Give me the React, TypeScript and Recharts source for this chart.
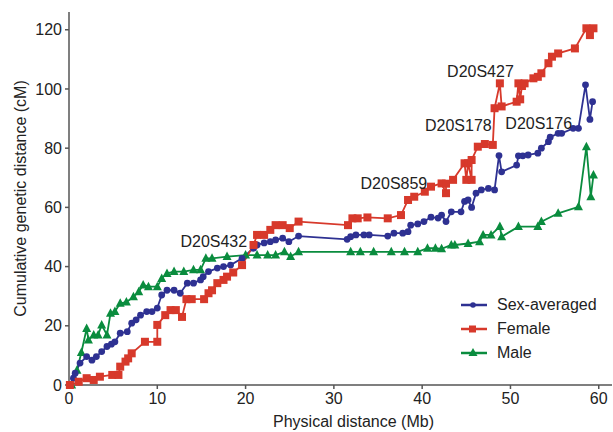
import { LineChart, Line, XAxis, YAxis, ReferenceDot } from "recharts";

const FONT = "'Liberation Sans', Arial, Helvetica, sans-serif";

const BLUE = "#2e3192";
const RED = "#d7392b";
const GREEN = "#0a8c3e";

// sex-averaged map (Mb vs cM)
const avgX = [
  0.5, 0.7, 1.25, 2, 2.6, 3.1, 3.7, 4.3, 4.8, 5.2, 5.8, 6.6, 7.1, 7.6, 8.1, 8.8, 9.4, 10, 10.5, 11.1,
  11.9, 12.6, 13.4, 14.1, 14.9, 15.2, 15.8, 16.8, 17.5, 18.3, 19.6, 20.9, 21.3, 22.1, 22.8, 23.4, 24.2,
  24.9, 26, 31.5, 31.9, 32.5, 33.4, 34, 36.1, 36.8, 37.8, 38.4, 38.7, 39.5, 40.2, 41, 41.8, 42.2, 42.7,
  43.3, 44.4, 44.8, 45.2, 45.6, 46.1, 46.7, 47.5, 48.2, 48.7, 49, 50.7, 50.9, 51.4, 52, 53.1, 53.5,
  54.3, 54.5, 55.4, 55.8, 57.1, 57.7, 58.5, 59, 59.3,
];
const avgY = [
  2.3, 4, 7.4, 9.6, 8.4, 9.6, 11.3, 13, 13.8, 14.6, 17.5, 18, 20.9, 22, 23.6, 24.8, 24.8, 26, 30.4, 32,
  32, 31, 34.4, 34.4, 35.5, 36.6, 38.3, 39.5, 40, 40.5, 42.8, 46.2, 47.3, 48, 48.4, 49, 49.6,
  48.4, 50.3, 49.2, 50.1, 50.7, 50.7, 50.7, 50.3, 51.3, 51.3, 51.8, 54, 54.4, 55.2, 56.7, 56.4, 57.4, 55.2,
  58.5, 58.5, 62, 62.5, 60, 64.8, 65.9, 66.4, 65.9, 77.5, 72, 74.3, 77.4, 77.4, 77.7, 78.3, 80,
  82.2, 83.7, 85, 85, 86.7, 86.7, 101.4, 89.7, 95.7,
];

// female map
const femX = [
  0.1, 1.1, 2, 2.8, 3.5, 4.9, 5.6, 5.8, 6.4, 6.7, 7.1, 8.6, 10, 10, 10.9, 11.5, 12.1, 12.8, 13.3, 13.9,
  15.3, 15.8, 16.2, 16.8, 17.5, 17.9, 18.6, 19.6, 20.9, 21.3, 22.1, 22.8, 23.4, 24.2, 25, 26, 31.6, 32.1,
  32.7, 33.8, 36.1, 37.6, 38.4, 39.1, 40.3, 41, 42.2, 42.7, 42.7, 43.5, 44.8, 45, 45.2, 45.6, 45.6, 46.3,
  47.1, 48, 48.2, 48.8, 49, 50.7, 50.9, 51.1, 51.3, 51.6, 52.6, 53.1, 53.5, 54.3, 54.7, 55.4, 57.3, 58.6,
  59, 59.4,
];
const femY = [
  0, 1.1, 2.3, 1.7, 2.8, 3.4, 3.4, 6.2, 7.9, 9, 10.7, 14.6, 14.6, 20.3, 23.6, 25.3, 25.3, 23, 29, 29,
  29, 31, 32, 34.4, 35.5, 36.6, 38, 40.5, 47.3, 50.7, 50.7, 52.4, 54, 54, 53, 55.2, 54, 56.3,
  56.3, 56.6, 56.3, 57.4, 62.5, 63.6, 65.3, 67, 68.1, 64.8, 68, 69.3, 74.9, 69.3, 74.9, 69.3, 76, 80.5,
  81.4, 81.1, 93.5, 101.9, 94.1, 95.7, 101.9, 96.5, 101, 101.9, 103.6, 104.1, 105.3, 108.7, 110.9, 112, 113.7, 120.5,
  118.2, 120.5,
];

// male map
const maleX = [
  0.3, 0.9, 1.4, 2, 2.2, 2.8, 3.3, 3.7, 4.3, 4.7, 5.2, 5.8, 6.5, 7.3, 7.9, 8.4, 9, 10, 10.5, 11.1, 11.9,
  13, 14.1, 14.9, 15.5, 16.2, 17.9, 20, 21.3, 22.5, 23.4, 24.4, 25.1, 26, 31.9, 33, 34.5, 36.5, 38, 39.5,
  40.6, 41.5, 42.2, 43.3, 43.7, 45.2, 46.5, 46.9, 47.8, 48.8, 49, 50.9, 53.1, 53.5, 55.4, 57.7, 58.6,
  59.1, 59.4,
];
const maleY = [
  0, 5, 11, 19.1, 15.2, 16.9, 16.9, 20.3, 16.9, 24.2, 24.8, 27.6, 28, 29.8, 31.5, 33.8, 33.2, 33.2, 36, 37.7, 38.3,
  38.3, 38.9, 38.9, 42.8, 42.8, 43.4, 43.9, 43.9, 43.9, 43.9, 45, 43.4, 45, 45, 45, 45, 45, 45, 45,
  46.2, 46.2, 46, 47.3, 47.3, 47.8, 48.4, 50.7, 50.7, 53.5, 50.1, 53.5, 53.5, 55.2, 58, 60.2, 80.5,
  63.6, 70.9,
];

const markerNames = ["D20S432", "D20S859", "D20S178", "D20S427", "D20S176"];
const markerX = [16.4, 36.8, 44.1, 46.6, 53.2];
const markerY = [48.6, 68.2, 87.8, 106, 88.5];

const xTicks = [0, 10, 20, 30, 40, 50, 60];
const yTicks = [0, 20, 40, 60, 80, 100, 120];

const legendNames = ["Sex-averaged", "Female", "Male"];
const legendColors = [BLUE, RED, GREEN];

const toPoints = (xs: number[], ys: number[]) => xs.map((x, i) => ({ x, y: ys[i] }));

const avgData = toPoints(avgX, avgY);
const femData = toPoints(femX, femY);
const maleData = toPoints(maleX, maleY);

const Circle = (p: any) => <circle key={`c-${p.index}`} cx={p.cx} cy={p.cy} r={3.4} fill={BLUE} />;
const Square = (p: any) => (
  <rect key={`s-${p.index}`} x={p.cx - 4} y={p.cy - 4} width={8} height={8} fill={RED} />
);
const Triangle = (p: any) => (
  <path
    key={`t-${p.index}`}
    d={`M${p.cx},${p.cy - 5} L${p.cx + 4.5},${p.cy + 3.5} L${p.cx - 4.5},${p.cy + 3.5} Z`}
    fill={GREEN}
  />
);

function LegendIcon({ i }: { i: number }) {
  const c = legendColors[i];
  return (
    <svg width={26} height={14} style={{ display: "block" }}>
      <line x1={0} y1={7} x2={26} y2={7} stroke={c} strokeWidth={2.5} />
      {i === 0 && <circle cx={12} cy={7} r={2.8} fill={c} />}
      {i === 1 && <rect x={8} y={3.5} width={7} height={7} fill={c} />}
      {i === 2 && <path d="M12,2 L16.5,10 L7.5,10 Z" fill={c} />}
    </svg>
  );
}

export default function App() {
  const tick = { fontSize: 16, fill: "#222", fontFamily: FONT };
  return (
    <div style={{ position: "absolute", left: 0, top: 0, width: 613, height: 432, fontFamily: FONT }}>
      <LineChart width={613} height={432} margin={{ top: 12, right: 1, bottom: 0, left: 8 }}>
        <XAxis
          type="number"
          dataKey="x"
          domain={[0, 61.5]}
          ticks={xTicks}
          allowDuplicatedCategory={false}
          stroke="#555"
          strokeWidth={1.5}
          tickSize={4}
          tickMargin={4}
          tick={tick}
          height={47}
          label={{
            value: "Physical distance (Mb)",
            position: "insideBottom",
            offset: 5,
            dx: 13,
            fontSize: 16,
            fill: "#222",
            fontFamily: FONT,
          }}
        />
        <YAxis
          type="number"
          dataKey="y"
          domain={[0, 126]}
          ticks={yTicks}
          stroke="#555"
          strokeWidth={1.5}
          tickSize={4}
          tickMargin={3}
          tick={tick}
          width={61}
          label={{
            value: "Cumulative genetic distance (cM)",
            angle: -90,
            position: "insideLeft",
            textAnchor: "middle",
            offset: 0,
            dx: 12,
            fontSize: 16,
            fill: "#222",
            fontFamily: FONT,
          }}
        />
        <Line
          data={maleData}
          dataKey="y"
          stroke={GREEN}
          strokeWidth={1.8}
          dot={Triangle}
          activeDot={false}
          isAnimationActive={false}
        />
        <Line
          data={avgData}
          dataKey="y"
          stroke={BLUE}
          strokeWidth={1.8}
          dot={Circle}
          activeDot={false}
          isAnimationActive={false}
        />
        <Line
          data={femData}
          dataKey="y"
          stroke={RED}
          strokeWidth={1.8}
          dot={Square}
          activeDot={false}
          isAnimationActive={false}
        />
        {markerNames.map((name, i) => (
          <ReferenceDot
            key={name}
            x={markerX[i]}
            y={markerY[i]}
            r={0}
            fill="none"
            stroke="none"
            label={{ value: name, position: "center", fontSize: 16, fill: "#222", fontFamily: FONT }}
          />
        ))}
      </LineChart>
      <div style={{ position: "absolute", left: 461, top: 293 }}>
        {legendNames.map((name, i) => (
          <div key={name} style={{ display: "flex", alignItems: "center", height: 24 }}>
            <LegendIcon i={i} />
            <span style={{ marginLeft: 10, fontSize: 16, color: "#222" }}>{name}</span>
          </div>
        ))}
      </div>
    </div>
  );
}
